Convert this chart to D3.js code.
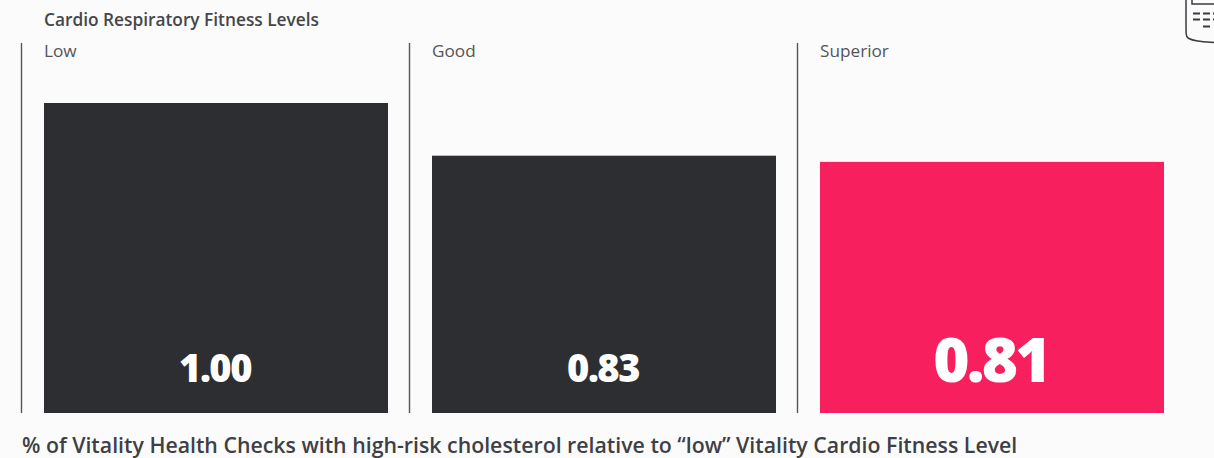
<!DOCTYPE html>
<html>
<head>
<meta charset="utf-8">
<script src="https://cdn.jsdelivr.net/npm/d3@7"></script>
<style>
html,body{margin:0;padding:0;background:#fbfbfb;overflow:hidden}
svg{display:block}
text{font-family:"Open Sans",sans-serif}
</style>
</head>
<body>
<svg id="chart" width="1214" height="458"></svg>
<script>
const levels = ["Low", "Good", "Superior"];
const ratios = [1.00, 0.83, 0.81];
const highlightedLevel = "Superior";
const heading = "Cardio Respiratory Fitness Levels";
const caption = "% of Vitality Health Checks with high-risk cholesterol relative to “low” Vitality Cardio Fitness Level";

const svg = d3.select("#chart");
const baselineY = 413, fullBarY = 103;

// One panel per fitness level; each starts at a vertical rule.
const x = d3.scaleBand().domain(levels).range([21.5, 1185.5]);
const y = d3.scaleLinear().domain([0, 1]).range([baselineY, fullBarY]);
const ruleToBar = 22.5, barWidth = 344;
const isHighlighted = d => d === highlightedLevel;

const panels = svg.selectAll("g.panel").data(levels).join("g")
  .attr("class", "panel")
  .attr("transform", d => `translate(${x(d)},0)`);

panels.append("line")
  .attr("x1", 0).attr("x2", 0)
  .attr("y1", 43).attr("y2", baselineY)
  .attr("stroke", "#55565a").attr("stroke-width", 1.4);

panels.append("text")
  .attr("x", ruleToBar).attr("y", 56.5)
  .attr("font-size", 17.2).attr("fill", "#54555a")
  .text(d => d);

panels.append("rect")
  .attr("x", ruleToBar)
  .attr("y", (d, i) => y(ratios[i]))
  .attr("width", barWidth)
  .attr("height", (d, i) => baselineY - y(ratios[i]))
  .attr("fill", d => isHighlighted(d) ? "#f81f5f" : "#2d2e32");

panels.append("text")
  .attr("x", d => ruleToBar + barWidth / 2 - (isHighlighted(d) ? 1 : 1))
  .attr("y", 382)
  .attr("text-anchor", "middle")
  .attr("font-size", d => isHighlighted(d) ? 62 : 38)
  .attr("font-weight", 800)
  .attr("letter-spacing", d => isHighlighted(d) ? -2.8 : -1.5)
  .attr("fill", "#ffffff")
  .text((d, i) => d3.format(".2f")(ratios[i]));

svg.append("text")
  .attr("x", 44).attr("y", 26)
  .attr("font-size", 17.3).attr("font-weight", 600).attr("fill", "#45464b")
  .text(heading);

svg.append("text")
  .attr("x", 22).attr("y", 453)
  .attr("font-size", 21.3).attr("font-weight", 600).attr("fill", "#3f4045")
  .text(caption);

// Device glyph running off the top right corner.
const icon = svg.append("g").attr("fill", "none").attr("stroke", "#3a3b40");
icon.append("path")
  .attr("stroke-width", 1.5)
  .attr("d", d3.line().curve(d3.curveBasis)([[1186, -4], [1186, 20], [1186, 36], [1187, 38], [1196, 41.5], [1214, 42.5]]));
icon.append("path").attr("stroke-width", 1.5).attr("d", "M1192,-2V4H1214");
icon.append("path").attr("stroke-width", 2).attr("d", "M1193,13.5H1200M1203,13.5H1210M1213,13.5H1214M1193,19.5H1200M1203,19.5H1210M1213,19.5H1214M1203,26.5H1210");
</script>
</body>
</html>
